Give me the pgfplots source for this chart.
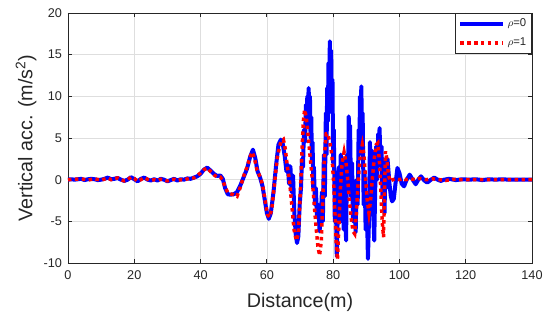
\documentclass[border=0pt]{standalone}
\usepackage{pgfplots}
\pgfplotsset{compat=1.18}
\usepackage{fontspec}
\setmainfont{Liberation Sans}
\definecolor{axgray}{rgb}{0.15,0.15,0.15}
\definecolor{gridgray}{rgb}{0.87,0.87,0.87}
\pgfplotstableread{
x y
0 0
1 0.05
2 0
3 0.05
4 0.1
5 -0.05
6 0.05
7 0.1
8 0.05
9 -0.05
10 0
11 0.1
12 0.25
13 0.05
14 0.1
15 0.2
16 0
17 -0.15
18 0
19 0.3
20 0.05
21 -0.2
22 0.1
23 0.25
24 0
25 -0.1
26 0.05
27 -0.1
28 0.1
29 0
30 -0.2
31 -0.05
32 0.1
33 -0.1
34 0.05
35 0
36 0.15
37 0.1
38 0.25
39 0.4
40 0.7
41 1.2
42 1.45
43 1.1
44 0.7
45 0.45
46 0.5
46.7 0.1
47.4 -1.0
48.2 -1.75
49 -1.8
50 -1.75
51 -1.5
52 -0.7
53 0.3
54 1.3
55 2.8
55.8 3.6
56.5 2.6
57.2 1.0
58 0.2
58.7 -0.8
59.4 -2.5
60 -4.0
60.6 -4.7
61.2 -4.0
62 -1.5
62.8 1.8
63.5 4.2
64.2 4.8
64.8 4.3
65.4 2.8
65.9 1.0
66.3 1.8
66.7 -0.5
67.1 1.6
67.5 -1.5
67.9 0.5
68.3 -4.0
68.7 -6.5
69.1 -7.6
69.5 -6.8
69.9 -3.0
70.3 -1.0
70.6 2.5
70.9 1.5
71.2 6.0
71.5 4.5
71.8 9.0
72.0 6.5
72.2 10.0
72.4 8.0
72.6 11.0
72.8 8.5
73.0 10.0
73.2 5.0
73.4 7.5
73.6 2.0
73.8 4.5
74.0 -1.0
74.2 1.5
74.5 -3.0
74.8 -1.0
75.1 -4.5
75.5 -3.0
75.9 -6.2
76.3 -4.5
76.6 -1.5
76.9 -5.0
77.2 3
77.5 -2
77.8 8
78.0 3
78.2 11
78.4 7
78.6 14
78.8 10
79.0 16.6
79.2 11
79.4 15.5
79.6 8
79.8 12
80.0 2
80.2 6
80.5 -5
80.8 -2
81.1 -9.2
81.4 -4
81.7 1.5
82.0 -3
82.3 3
82.6 -5
82.9 2.5
83.2 -6
83.5 0
83.9 -7.3
84.2 3
84.5 -1
84.7 7.6
84.9 4
85.1 6.5
85.4 -2
85.7 2
86.0 -5
86.4 -1
86.8 -6.3
87.1 0
87.4 -3
87.7 6
87.9 3
88.1 10
88.3 7
88.5 11.2
88.7 6
88.9 8
89.2 -3
89.5 1
89.8 -6
90.1 -2
90.5 -9.5
90.8 -5
91.1 4.5
91.4 -2
91.7 3.5
92.0 -3
92.4 -7.3
92.7 -1
93.0 4
93.3 0
93.6 5.5
93.8 3
94.0 6.2
94.3 2
94.6 4
94.9 -2
95.2 1
95.5 -4
95.8 2.5
96.1 -1
96.4 2.5
96.7 1
97.0 -0.5
97.4 -2.0
97.8 -2.6
98.3 -2.3
98.8 -0.5
99.4 1.4
100 0.8
100.7 -0.5
101.4 -0.8
102.2 0
103.1 0.6
104 0
104.9 -0.55
105.7 0
106.5 0.4
107.5 -0.1
108.4 -0.35
109.5 0
110.5 0.25
111.5 0
112.5 -0.15
113.5 0
115 0.1
117 -0.05
119 0.05
121 0
123 0.05
125 -0.05
127 0.05
129 0
131 0.05
133 0
135 0
137 0
140 0
}\blue
\pgfplotstableread{
x y
0 0
2 0.05
4 0.1
6 -0.05
8 0.1
10 -0.05
12 0.2
13 0
14 0.15
15 0.2
16 0
17 -0.15
18 0
19 0.3
20 0.15
21 -0.2
22 0
23 0.25
24 0.05
25 -0.1
26 0
27 -0.1
28 0.05
29 -0.05
30 -0.15
31 0
32 0.05
33 -0.1
34 0
35 -0.05
36 0.1
37 0.2
38 0.2
39 0.5
40 0.8
41 1.2
42 1.4
43 1.0
44 0.6
45 0.3
46 0.3
46.8 -0.2
47.5 -1.0
48.3 -1.6
49 -1.7
50 -1.8
51 -2.0
52 -0.9
53 0.4
54 1.5
55 2.8
55.6 3.3
56.3 2.5
57 1.2
58 0.3
58.7 -0.6
59.5 -2.6
60.2 -4.2
60.8 -4.5
61.5 -3.5
62.3 -0.5
63.2 2.8
64.2 4.5
65.0 4.8
65.6 3.6
66.2 1.5
66.8 0
67.4 -2.5
68.2 -6.0
68.9 -7.3
69.5 -6.5
70.0 -2.5
70.5 2.5
71.0 7.0
71.4 8.4
71.9 7.5
72.4 5.5
73.0 3.0
73.6 0.5
74.2 -2.5
74.8 -5.5
75.4 -8.0
75.9 -9.1
76.4 -7.5
76.9 -2.0
77.4 3.0
77.9 5.5
78.4 5.5
79.0 4.5
79.6 3.0
80.1 0
80.5 -3.5
80.9 -7.5
81.3 -9.6
81.7 -6.0
82.2 -1.0
82.7 2.0
83.3 3.3
83.9 2.0
84.4 0
84.9 -2.5
85.4 -4.5
86.0 -6.2
86.5 -6.5
87.0 -4.0
87.6 0
88.2 3.0
88.8 4.2
89.3 3.0
89.8 0
90.3 -2.5
90.8 -4.0
91.3 -2.5
91.8 0
92.4 2.5
93.0 4.2
93.5 4.4
94.0 2.0
94.4 -1.5
94.8 -5.0
95.2 -6.9
95.5 -1.5
95.8 3.4
96.2 2.5
96.7 0.5
97.3 -0.2
98 0
99 0.1
100 0
101 0.15
102 0
103 0.1
105 0
106 0.15
108 0
110 0.1
112 0
114 -0.1
116 0.05
118 0
120 0
125 0
130 0
135 0
140 0
}\red
\begin{document}
\begin{tikzpicture}
\begin{axis}[
  scale only axis,
  width=348pt, height=187.5pt,
  xmin=0, xmax=140, ymin=-10, ymax=20,
  xtick={0,20,...,140}, ytick={-10,-5,...,20},
  grid=major,
  major grid style={gridgray, line width=0.5pt},
  axis line style={axgray, line width=0.6pt},
  tick style={axgray, line width=0.6pt},
  tick align=inside,
  major tick length=3pt,
  ticklabel style={font=\fontsize{9.5}{11}\selectfont, text=axgray},
  /pgf/number format/assume math mode=true,
  xticklabel style={yshift=-2pt},
  yticklabel style={xshift=-1pt},
  label style={font=\fontsize{14.8}{17}\selectfont, text=axgray},
  xlabel={Distance(m)},
  ylabel={Vertical acc. (m/s\textsuperscript{2})},
  xlabel style={at={(axis description cs:0.5,-0.156)}, anchor=center},
  ylabel style={at={(axis description cs:-0.0905,0.5)}, anchor=center},
  legend style={at={(rel axis cs:1,1)}, anchor=north east, draw=axgray,
    line width=0.6pt, font=\fontsize{8.5}{9}\selectfont, text=axgray,
    inner sep=2pt, row sep=3pt, cells={anchor=west}},
  legend cell align=left,
  legend image code/.code={\draw[#1] (0pt,0pt) -- (32pt,0pt);},
]
\addplot[blue, line width=3pt, line join=round] table[x=x,y=y] {\blue};
\addlegendentry{$\rho$=0}
\addplot[red, line width=2.6pt, dash pattern=on 2.6pt off 2.6pt] table[x=x,y=y] {\red};
\addlegendentry{$\rho$=1}
\end{axis}
\pgfresetboundingbox
\path[use as bounding box] (current axis.south west) ++(-51pt,-44.25pt) rectangle ++(412.5pt,241.5pt);
\end{tikzpicture}
\end{document}
